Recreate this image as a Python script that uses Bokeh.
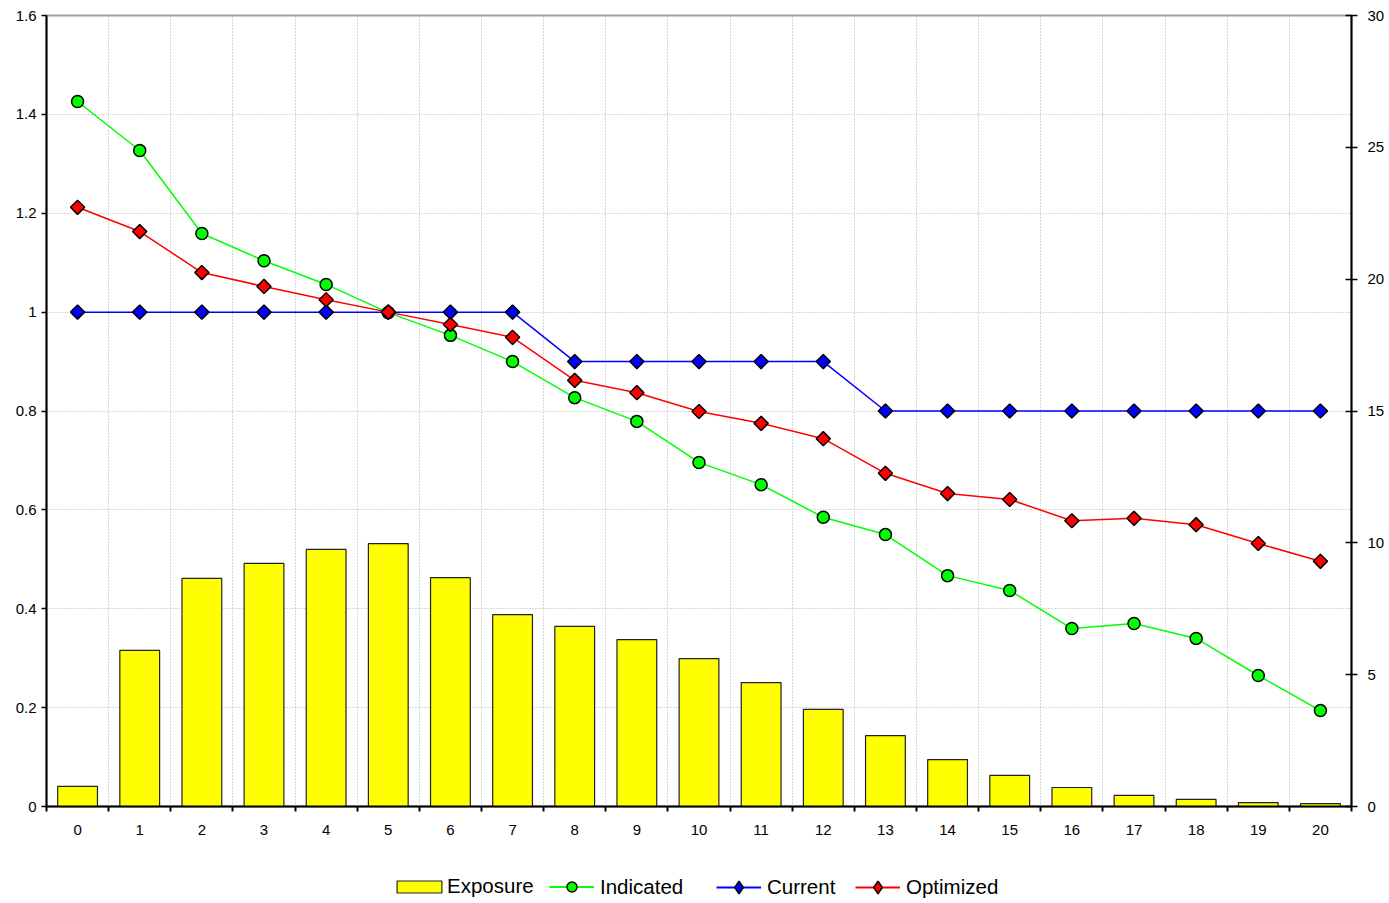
import math
from bokeh.plotting import figure
from bokeh.layouts import column
from bokeh.models import Range1d, LinearAxis, FixedTicker, Legend, LegendItem, ColumnDataSource
from bokeh.embed import file_html
from bokeh.resources import INLINE

# ---- data ----
categories = [0, 1, 2, 3, 4, 5, 6, 7, 8, 9, 10, 11, 12, 13, 14, 15, 16, 17, 18, 19, 20]
exposure = [0.76, 5.92, 8.65, 9.22, 9.75, 9.97, 8.68, 7.28, 6.83, 6.33, 5.61,
            4.70, 3.68, 2.69, 1.78, 1.18, 0.72, 0.42, 0.27, 0.15, 0.11]
indicated = [1.426, 1.327, 1.159, 1.104, 1.056, 0.999, 0.953, 0.900, 0.827, 0.779, 0.696,
             0.651, 0.585, 0.550, 0.467, 0.437, 0.360, 0.370, 0.340, 0.265, 0.194]
current = [1.0, 1.0, 1.0, 1.0, 1.0, 1.0, 1.0, 1.0, 0.9, 0.9, 0.9,
           0.9, 0.9, 0.8, 0.8, 0.8, 0.8, 0.8, 0.8, 0.8, 0.8]
optimized = [1.212, 1.163, 1.080, 1.052, 1.025, 1.000, 0.975, 0.949, 0.862, 0.837, 0.799,
             0.775, 0.744, 0.674, 0.633, 0.621, 0.578, 0.583, 0.570, 0.532, 0.496]
left_ticks = [0, 0.2, 0.4, 0.6, 0.8, 1, 1.2, 1.4, 1.6]
left_labels = ["0", "0.2", "0.4", "0.6", "0.8", "1", "1.2", "1.4", "1.6"]
right_ticks = [0, 5, 10, 15, 20, 25, 30]
series_names = ["Exposure", "Indicated", "Current", "Optimized"]

FONT = "Liberation Sans"
YELLOW, GREEN, BLUE, RED = "#ffff00", "#00ff00", "#0000ff", "#ff0000"

src = ColumnDataSource(dict(x=categories, exposure=exposure, indicated=indicated,
                            current=current, optimized=optimized))

p = figure(width=1389, height=850, output_backend="svg", toolbar_location=None,
           x_range=Range1d(-0.5, 20.5), y_range=Range1d(0, 1.6),
           min_border_left=46, min_border_right=38, min_border_top=15, min_border_bottom=44)
p.extra_y_ranges = {"exp": Range1d(0, 30)}
p.outline_line_color = "#a0a0a0"
p.outline_line_width = 2


def style_axis(ax):
    ax.axis_line_width = 2
    ax.axis_line_color = "black"
    ax.major_tick_line_width = 1.5
    ax.major_tick_line_color = "black"
    ax.major_label_text_font = FONT
    ax.major_label_text_font_size = "15px"
    ax.major_label_text_color = "black"


# left axis
ly = p.left[0]
ly.ticker = FixedTicker(ticks=left_ticks)
ly.major_label_overrides = {t: l for t, l in zip(left_ticks, left_labels)}
ly.major_tick_out = 5
ly.major_tick_in = 0
ly.minor_tick_line_color = None
ly.major_label_standoff = 5
style_axis(ly)

# right axis
ry = LinearAxis(y_range_name="exp", ticker=FixedTicker(ticks=right_ticks))
ry.major_tick_out = 6
ry.major_tick_in = 6
ry.minor_tick_line_color = None
ry.major_label_standoff = 10
style_axis(ry)
p.add_layout(ry, "right")

# bottom axis
bx = p.below[0]
bx.ticker = FixedTicker(ticks=categories,
                        minor_ticks=[c - 0.5 for c in categories] + [categories[-1] + 0.5])
bx.major_tick_out = 0
bx.major_tick_in = 0
bx.minor_tick_out = 5
bx.minor_tick_in = 0
bx.minor_tick_line_width = 2
bx.minor_tick_line_color = "black"
bx.major_label_standoff = 13
style_axis(bx)

# grids
p.xgrid.ticker = FixedTicker(ticks=[c + 0.5 for c in categories[:-1]])
for g in (p.xgrid[0], p.ygrid[0]):
    g.grid_line_color = "#b0b0b0"
    g.grid_line_dash = "1 2"
    g.grid_line_width = 1

# glyphs
p.vbar(x="x", top="exposure", width=0.64, source=src, y_range_name="exp",
       fill_color=YELLOW, line_color="#222222", line_width=1.2)

p.line("x", "indicated", source=src, line_color=GREEN, line_width=1.5)
p.scatter("x", "indicated", source=src, marker="circle", size=12,
          fill_color=GREEN, line_color="black", line_width=1.5)
p.line("x", "current", source=src, line_color=BLUE, line_width=1.5)
p.scatter("x", "current", source=src, marker="square", angle=math.pi / 4, size=10,
          fill_color=BLUE, line_color="black", line_width=1.5)
p.line("x", "optimized", source=src, line_color=RED, line_width=1.5)
p.scatter("x", "optimized", source=src, marker="square", angle=math.pi / 4, size=10,
          fill_color=RED, line_color="black", line_width=1.5)

# ---- legend strip (separate figure below the chart; frames are aligned by the column) ----
leg = figure(width=1389, height=53, output_backend="svg", toolbar_location=None,
             x_range=Range1d(0, 1389), y_range=Range1d(0, 53),
             x_axis_type=None, y_axis_type=None, min_border=0)
leg.outline_line_color = None
leg.xgrid.visible = False
leg.ygrid.visible = False

off = dict(x=[-1000], y=[-1000])
r_exp = leg.vbar(x=[-1000], top=[-999], width=1, fill_color=YELLOW, line_color="#222222", line_width=1.2)
r_ind = [leg.line(**off, line_color=GREEN, line_width=2),
         leg.scatter(**off, marker="circle", size=10, fill_color=GREEN, line_color="black", line_width=1.5)]
r_cur = [leg.line(**off, line_color=BLUE, line_width=2),
         leg.scatter(**off, marker="diamond", size=12, fill_color=BLUE,
                     line_color="black", line_width=1.5)]
r_opt = [leg.line(**off, line_color=RED, line_width=2),
         leg.scatter(**off, marker="diamond", size=12, fill_color=RED,
                     line_color="black", line_width=1.5)]

CENTER = 16.5


def add_legend(item, x, gw, gh, standoff):
    h = max(gh, 23)
    lg = Legend(items=[item], location=(x, CENTER - h / 2), orientation="horizontal",
                glyph_width=gw, glyph_height=gh, label_standoff=standoff, label_height=23,
                padding=0, margin=0, spacing=0, border_line_color=None,
                background_fill_alpha=0, label_text_font=FONT,
                label_text_font_size="20.5px", label_text_color="black")
    leg.add_layout(lg)


add_legend(LegendItem(label=series_names[0], renderers=[r_exp]), 345, 56, 15, 0)
add_legend(LegendItem(label=series_names[1], renderers=r_ind), 503, 45, 25, 6)
add_legend(LegendItem(label=series_names[2], renderers=r_cur), 670, 45, 32, 6)
add_legend(LegendItem(label=series_names[3], renderers=r_opt), 809, 45, 32, 6)

layout = column(p, leg, spacing=0)
open("out.html", "w").write(file_html(layout, INLINE))
